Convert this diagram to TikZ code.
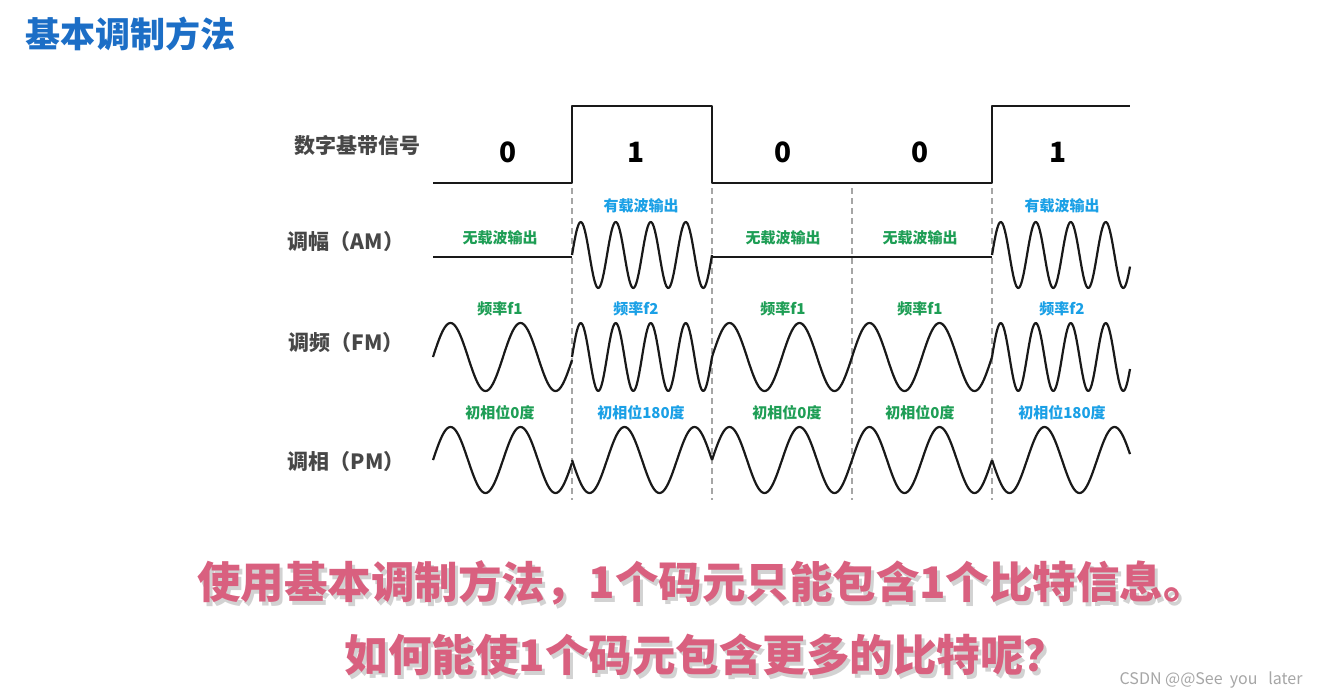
\documentclass[tikz,border=0pt]{standalone}
\usepackage{fontspec}
\setmainfont{Noto Sans CJK SC}
\newfontfamily\cjk{Noto Sans CJK SC}
\definecolor{titleblue}{HTML}{1C6EC6}
\definecolor{lblgreen}{HTML}{1E9E55}
\definecolor{lblblue}{HTML}{1AA0E6}
\definecolor{pinktxt}{HTML}{D9607F}
\begin{document}
\begin{tikzpicture}[x=1pt,y=-1pt,
  wave/.style={line width=2.2pt,line join=round,black!90},
  divline/.style={gray!70,line width=1.6pt,dash pattern=on 6pt off 4pt},
  rowlbl/.style={font=\fontsize{21}{21}\selectfont\bfseries,text=black!72,anchor=center},
  digit/.style={font=\fontsize{28}{28}\selectfont\bfseries},
  glbl/.style={font=\fontsize{15}{15}\selectfont\bfseries,text=lblgreen},
  blbl/.style={font=\fontsize{15}{15}\selectfont\bfseries,text=lblblue},
  bigtxt/.style={font=\fontsize{43.5}{43.5}\selectfont\bfseries,text=pinktxt}]
\useasboundingbox (0,0) rectangle (1320,699);
\fill[white] (0,0) rectangle (1320,699);
% title
\node[font=\fontsize{35}{35}\selectfont\bfseries,text=titleblue,anchor=west] (title) at (22,34) {基本调制方法};
% dividers
\foreach \xx/\nm in {572/d1,712/d2,852/d3,992/d4}
  \draw[divline] (\xx,188) coordinate (\nm top) -- (\xx,500) coordinate (\nm bot);
% row labels
\node[rowlbl] (rdig) at (357,145) {数字基带信号};
\node[rowlbl] (ram) at (346,242) {调幅（AM）};
\node[rowlbl] (rfm) at (346,343) {调频（FM）};
\node[rowlbl] (rpm) at (346,462) {调相（PM）};
% digital signal
\draw[wave] (433,183) -- (572,183) -- (572,106) -- (712,106) -- (712,183) -- (992,183) -- (992,106) -- (1130,106);
\foreach \xx/\b/\nm in {508/0/b1,636/1/b2,783/0/b3,920/0/b4,1058/1/b5}
  \node[digit] (\nm) at (\xx,152) {\b};
% AM
\draw[wave] (433,257) -- (572,257);
\draw[wave] plot[domain=572:712,samples=160] (\x,{255-33*sin((\x-572)/35*360)});
\draw[wave] (712,257) -- (992,257);
\draw[wave] plot[domain=992:1130,samples=160] (\x,{255-33*sin((\x-992)/35*360)});
\foreach \xx/\nm in {500/a1,783/a3,920/a4} \node[glbl] (\nm) at (\xx,238) {无载波输出};
\foreach \xx/\nm in {641/a2,1062/a5} \node[blbl] (\nm) at (\xx,206) {有载波输出};
% FM
\foreach \s/\e/\p in {433/572/70,572/712/35,712/852/70,852/992/70,992/1130/35}
  \draw[wave] plot[domain=\s:\e,samples=120] (\x,{357-34*sin((\x-\s)/\p*360)});
\foreach \xx/\nm in {500/f1,783/f3,920/f4} \node[glbl] (\nm) at (\xx,309) {频率f1};
\foreach \xx/\nm in {636/f2,1062/f5} \node[blbl] (\nm) at (\xx,309) {频率f2};
% PM
\foreach \s/\e/\sg in {433/572/1,572/712/-1,712/852/1,852/992/1,992/1130/-1}
  \draw[wave] plot[domain=\s:\e,samples=120] (\x,{460-\sg*33*sin((\x-\s)/70*360)});
\foreach \xx/\nm in {500/p1,787/p3,920/p4} \node[glbl] (\nm) at (\xx,413) {初相位0度};
\foreach \xx/\nm in {641/p2,1062/p5} \node[blbl] (\nm) at (\xx,413) {初相位180度};
% bottom text with shadow
\node[bigtxt,text=gray!35] (q1s) at (705,587) {使用基本调制方法，1个码元只能包含1个比特信息。};
\node[bigtxt] (q1) at (702,583) {使用基本调制方法，1个码元只能包含1个比特信息。};
\node[bigtxt,text=gray!35] (q2s) at (709,659) {如何能使1个码元包含更多的比特呢？};
\node[bigtxt] (q2) at (706,655) {如何能使1个码元包含更多的比特呢？};
\node[font=\fontsize{16}{16}\selectfont,text=gray!70,anchor=east] (wm) at (1306,680) {CSDN @@See\ \ you\ \ \ later};
\end{tikzpicture}
\end{document}
